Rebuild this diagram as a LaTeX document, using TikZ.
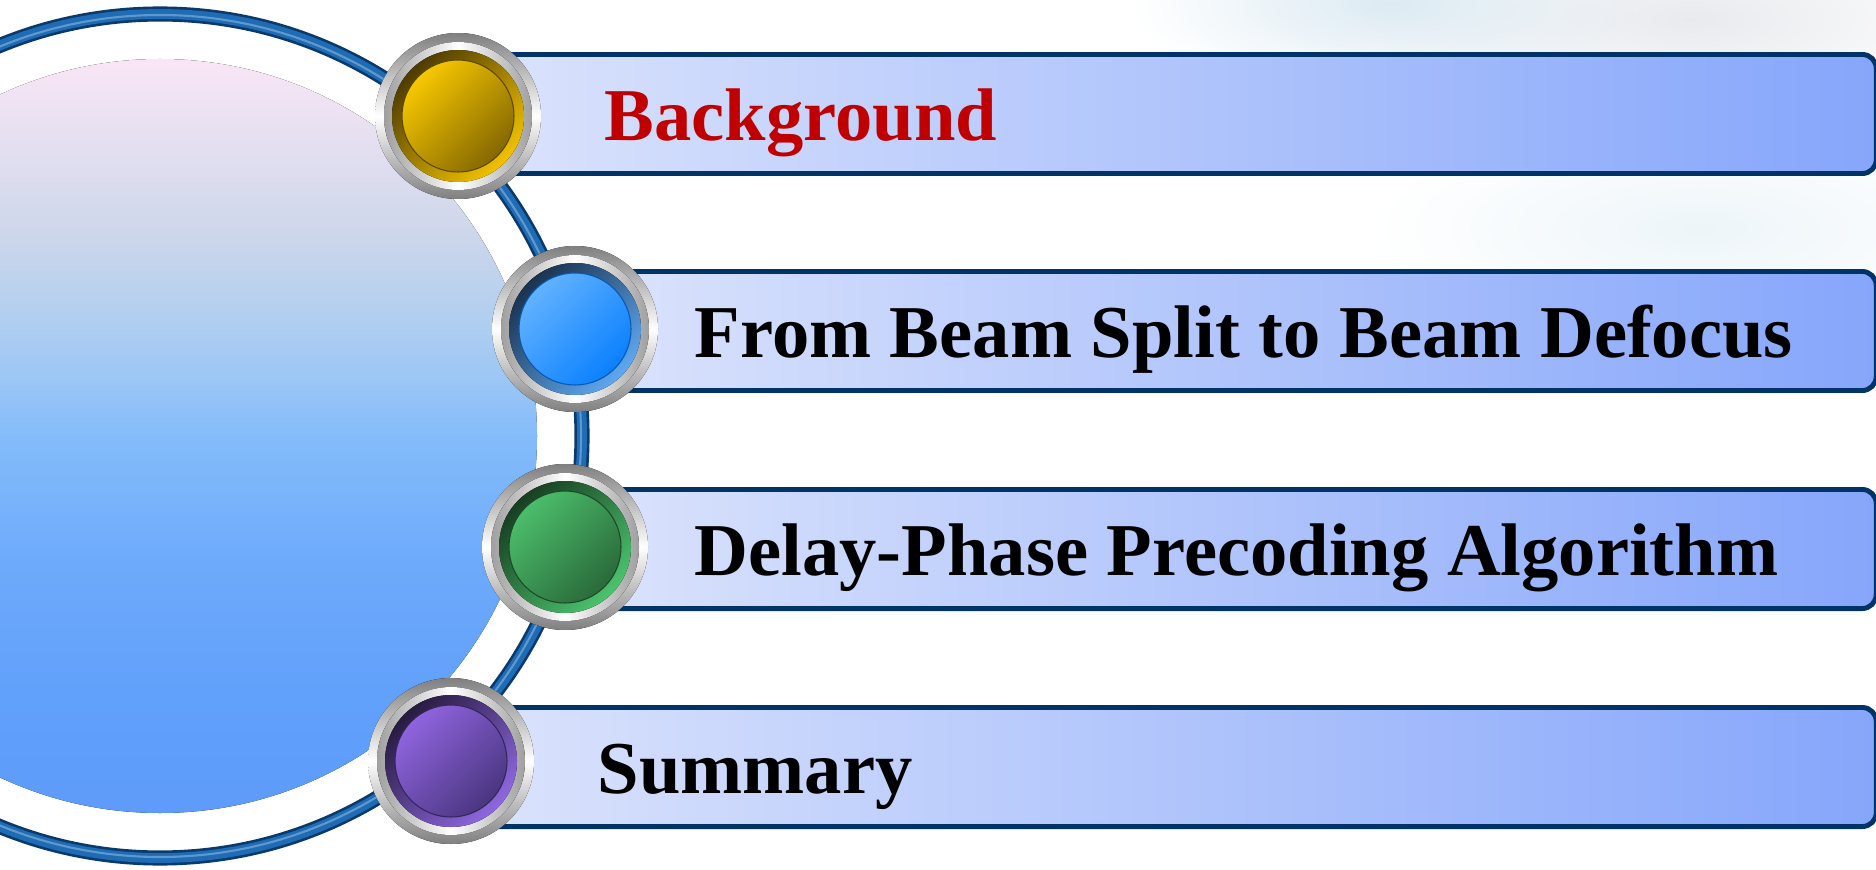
\documentclass[tikz,border=0pt]{standalone}
\usepackage{fontspec}
\setmainfont{Liberation Serif}
\usetikzlibrary{fadings}

\definecolor{navy}{HTML}{003366}
\definecolor{ringdark}{HTML}{0A3A6C}
\definecolor{ringblue}{HTML}{1E6CB5}
\definecolor{barl}{HTML}{DCE4FC}
\definecolor{barr}{HTML}{86A6FB}
\definecolor{titlered}{HTML}{C00000}
\definecolor{hazeblue}{HTML}{DCEAF3}
\definecolor{hazegray}{HTML}{E9EAEE}
% disk colours, top to bottom
\definecolor{dsk0}{HTML}{F9E6F5}
\definecolor{dsk1}{HTML}{DDDDEF}
\definecolor{dsk2}{HTML}{CBD6EB}
\definecolor{dsk3}{HTML}{B4D0EF}
\definecolor{dsk4}{HTML}{9DC7F5}
\definecolor{dsk5}{HTML}{84BCFA}
\definecolor{dsk6}{HTML}{6DAAFB}
\definecolor{dsk7}{HTML}{61A0FB}
\definecolor{dsk8}{HTML}{5E9BFA}
% button colours
\definecolor{yrimd}{HTML}{4E3C00}
\definecolor{yriml}{HTML}{F2C200}
\definecolor{ydiskl}{HTML}{F7C800}
\definecolor{ydiskd}{HTML}{856800}
\definecolor{brimd}{HTML}{1A3350}
\definecolor{briml}{HTML}{5FA8F0}
\definecolor{bdiskl}{HTML}{62B2FF}
\definecolor{bdiskd}{HTML}{0A80FF}
\definecolor{grimd}{HTML}{173F22}
\definecolor{griml}{HTML}{4CC36E}
\definecolor{gdiskl}{HTML}{4BBD6A}
\definecolor{gdiskd}{HTML}{2A6A3A}
\definecolor{primd}{HTML}{271B40}
\definecolor{priml}{HTML}{8E68E0}
\definecolor{pdiskl}{HTML}{8F64DE}
\definecolor{pdiskd}{HTML}{4A3680}

\pgfdeclareverticalshading{diskshade}{100bp}{color(0bp)=(dsk8); color(25bp)=(dsk8);
  color(32.5bp)=(dsk7); color(41.5bp)=(dsk6); color(50bp)=(dsk5); color(54bp)=(dsk4);
  color(58.5bp)=(dsk3); color(63bp)=(dsk2); color(67.5bp)=(dsk1); color(75bp)=(dsk0);
  color(100bp)=(dsk0)}
\tikzfading[name=softblob, inner color=transparent!0, outer color=transparent!100]

\tikzset{
  bar/.style={draw=navy, line width=1.4pt, rounded corners=4pt,
    left color=barl, right color=barr, minimum height=1.19cm,
    anchor=west, inner sep=0pt},
  item/.style={anchor=base west, inner sep=0pt,
    font=\bfseries\fontsize{21.2}{25}\selectfont},
  haze/.style={path fading=softblob},
}

% button: name, centre, rim dark, rim light, disk light, disk dark
\newcommand{\knob}[6]{%
  \coordinate (#1) at #2;
  \fill[top color=gray, bottom color=gray, middle color=white] (#1) circle (83);
  \fill[left color=gray!75, right color=gray!75, middle color=white] (#1) circle (74);
  \fill[top color=#3, bottom color=#4, shading angle=45] (#1) circle (66);
  \filldraw[top color=#5, bottom color=#6, shading angle=45,
    draw=#6!70!black, line width=0.3pt] (#1) circle (56);
}

\begin{document}
\begin{tikzpicture}[x=0.01cm,y=0.01cm]
	\useasboundingbox (0,0) rectangle (1876,869);
	\clip (0,0) rectangle (1876,869);
	
	%haze top right
	\fill[hazegray,haze] (1690,850) ellipse (330 and 110);
	\fill[hazeblue,haze] (1390,865) ellipse (260 and 90);
	\fill[hazeblue!50,haze] (1700,640) ellipse (330 and 110);
	
	%big disk and ring
	\coordinate (centre) at (160,433);
	\fill[shading=diskshade] (centre) circle (377);
	\draw[line width=4.3pt,ringdark] (centre) circle (422);
	\draw[line width=2.8pt,ringblue] (centre) circle (422);
	\draw[line width=0.6pt,ringblue!70!white] (centre) circle (421);
	
	%bars
	\node[bar, minimum width=14.15cm] (bar1) at (458,755) {};
	\node[bar, minimum width=12.98cm] (bar2) at (575,538) {};
	\node[bar, minimum width=13.08cm] (bar3) at (565,320) {};
	\node[bar, minimum width=14.22cm] (bar4) at (451,102) {};
	
	%buttons
	\knob{k1}{(458,753)}{yrimd}{yriml}{ydiskl}{ydiskd}
	\knob{k2}{(575,540)}{brimd}{briml}{bdiskl}{bdiskd}
	\knob{k3}{(565,322)}{grimd}{griml}{gdiskl}{gdiskd}
	\knob{k4}{(451,108)}{primd}{priml}{pdiskl}{pdiskd}
	
	%titles
	\node[item, text=titlered] (t1) at (604,728) {Background};
	\node[item] (t2) at (694,512) {From Beam Split to Beam Defocus};
	\node[item] (t3) at (694,294) {Delay-Phase Precoding Algorithm};
	\node[item] (t4) at (597,76) {Summary};
\end{tikzpicture}
\end{document}
